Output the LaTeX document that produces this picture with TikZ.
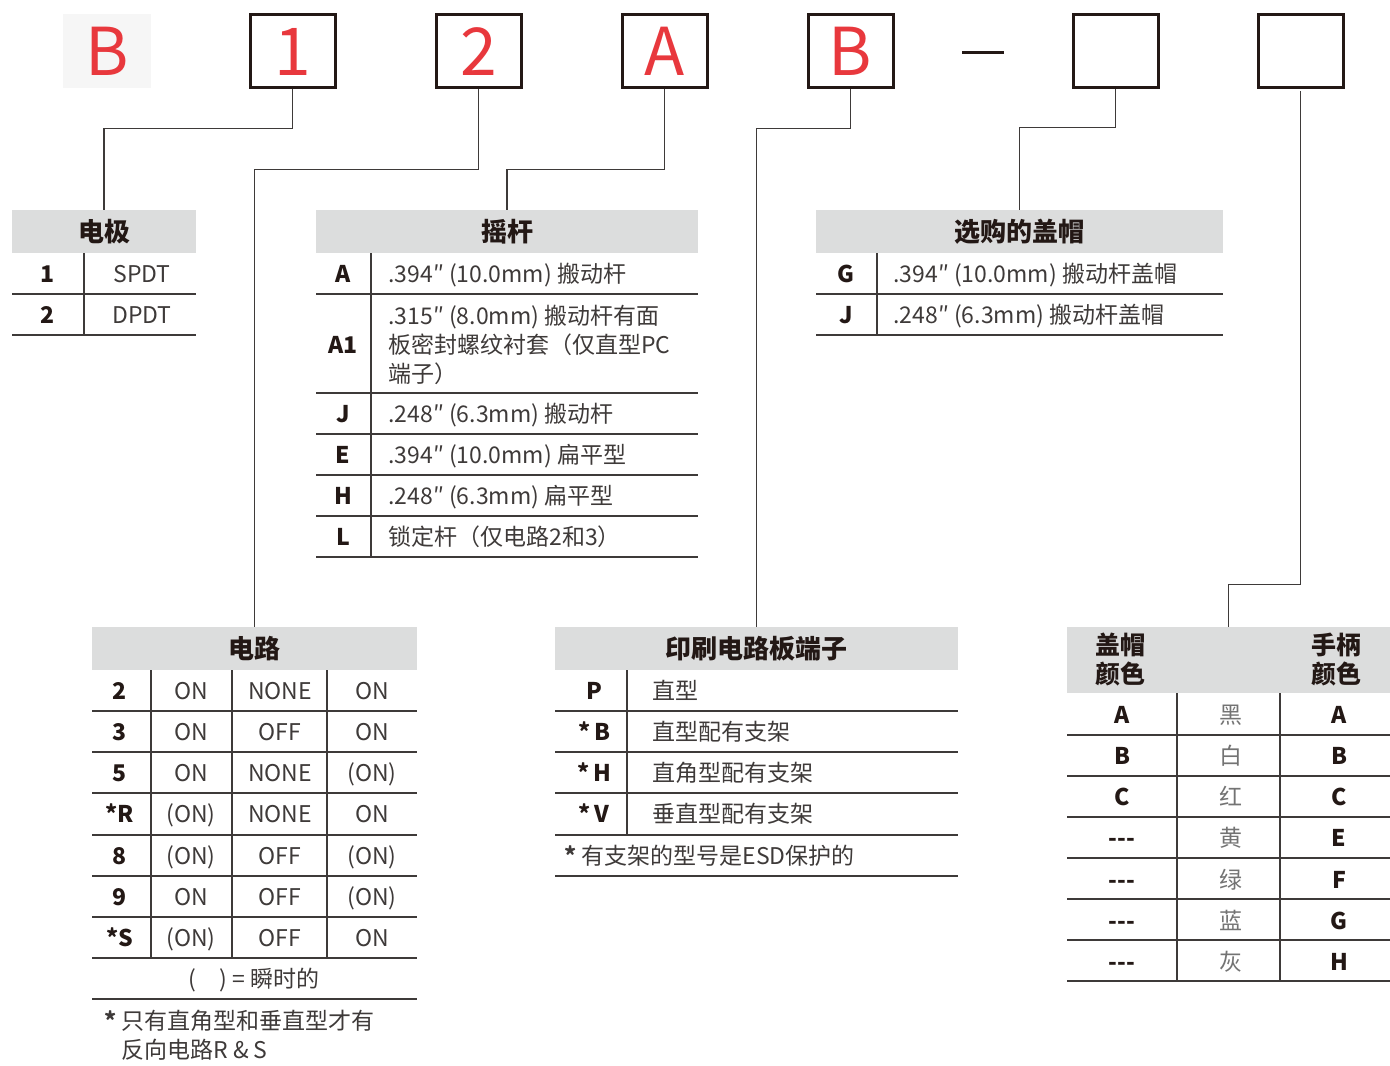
\documentclass[tikz,border=0pt]{standalone}
\usepackage{fontspec}
\setmainfont{Noto Sans CJK SC}
\usetikzlibrary{positioning}
\definecolor{hdgray}{HTML}{DCDDDD}
\definecolor{txtgray}{HTML}{3E3A39}
\definecolor{keyblk}{HTML}{231815}
\definecolor{linegray}{HTML}{3E3A39}
\definecolor{codered}{HTML}{E8383D}
\definecolor{bgpale}{HTML}{F6F6F6}

\begin{document}
\begin{tikzpicture}[x=0.5pt,y=-0.5pt]
  % some styles
  \tikzset{
    selbox/.style={
      draw=keyblk,
      line width=1.5pt,
      minimum width=42.5pt,
      minimum height=36.5pt,
      inner sep=0pt,
      text=codered,
      font=\fontsize{33}{33}\selectfont
    }
  }
  \tikzset{hdr/.style={fill=hdgray,inner sep=0pt,minimum height=21.5pt,text=keyblk,text height=11pt,text depth=1.2pt,font=\fontsize{13}{15}\selectfont\bfseries}}
  \tikzset{key/.style={text=keyblk,inner sep=0pt,text height=9.6pt,text depth=0.8pt,font=\fontsize{11.5}{14}\selectfont\bfseries}}
  \tikzset{val/.style={text=txtgray,inner sep=0pt,text height=9.6pt,text depth=0.8pt,font=\fontsize{11.5}{14}\selectfont}}
  \tikzset{lval/.style={val,anchor=west}}
  \tikzset{rule/.style={draw=linegray,line width=1pt}}
  \tikzset{conn/.style={draw=linegray,line width=0.75pt}}

  \useasboundingbox (0,0) rectangle (1390,1065);

  % part number boxes
  \node[selbox,draw=none,fill=bgpale,minimum width=44pt,minimum height=37pt] (s0) at (107,51) {B};
  \node[selbox] (s1) at (292.5,51.5) {1};
  \node[selbox] (s2) at (478.5,51.5) {2};
  \node[selbox] (s3) at (664.5,51.5) {A};
  \node[selbox] (s4) at (850.5,51.5) {B};
  \node[selbox] (s5) at (1115.5,51.5) {};
  \node[selbox] (s6) at (1300.5,51.5) {};
  \draw[line width=1.5pt,keyblk] (962,53) -- (1004,53);

  % table headers
  \node[hdr,minimum width=92pt] (tpole) at (104,231.5) {电极};
  \node[hdr,minimum width=191pt] (tlever) at (507,231.5) {摇杆};
  \node[hdr,minimum width=203.5pt] (tcap) at (1019.5,231.5) {选购的盖帽};
  \node[hdr,minimum width=162.5pt] (tcirc) at (254.5,648.5) {电路};
  \node[hdr,minimum width=201.5pt] (tpcb) at (756.5,648.5) {印刷电路板端子};
  \node[hdr,minimum width=161.5pt,minimum height=33pt] (tcol) at (1228.5,660) {};
  \node[key,font=\fontsize{12.5}{14}\selectfont\bfseries] (tcolLa) at (1120,646) {盖帽};
  \node[key,font=\fontsize{12.5}{14}\selectfont\bfseries] (tcolLb) at (1120,675) {颜色};
  \node[key,font=\fontsize{12.5}{14}\selectfont\bfseries] (tcolRa) at (1336,646) {手柄};
  \node[key,font=\fontsize{12.5}{14}\selectfont\bfseries] (tcolRb) at (1336,675) {颜色};

  % leader lines
  \draw[conn] (s1.south) -- ++(0,39) -| (tpole.north);
  \draw[conn] (s2.south) -- ++(0,80) -| (tcirc.north);
  \draw[conn] (s3.south) -- ++(0,80) -| (tlever.north);
  \draw[conn] (s4.south) -- ++(0,39) -| (tpcb.north);
  \draw[conn] (s5.south) -- ++(0,38) -| (tcap.north);
  \draw[conn,shorten <=1pt] (s6.south) -- ++(0,495) -| (tcol.north);

  % poles
  \foreach \y in {294,335} \draw[rule] (12,\y) -- (196,\y);
  \draw[rule] (84,253) -- (84,335);
  \foreach \y/\k/\t in {274/1/SPDT,315/2/DPDT} {
    \node[key] (pk\k) at (48,\y) {\k};
    \node[val] (pv\k) at (142,\y) {\t};
  }

  % lever
  \foreach \y in {294,393,434,475,516,557} \draw[rule] (316,\y) -- (698,\y);
  \draw[rule] (371,253) -- (371,557);
  \foreach \y/\k/\t in {274/A/{.394″ (10.0mm) 搬动杆},414/J/{.248″ (6.3mm) 搬动杆},
      455/E/{.394″ (10.0mm) 扁平型},496/H/{.248″ (6.3mm) 扁平型},537/L/{锁定杆（仅电路2和3）}} {
    \node[key] (lk\k) at (343,\y) {\k};
    \node[lval] (lv\k) at (388,\y) {\t};
  }
  \node[key] (lkA1) at (343,345) {A1};
  \node[lval] (lvA1a) at (388,316) {.315″ (8.0mm) 搬动杆有面};
  \node[lval] (lvA1b) at (388,345) {板密封螺纹衬套（仅直型PC};
  \node[lval] (lvA1c) at (388,374) {端子）};

  % optional caps
  \foreach \y in {294,335} \draw[rule] (816,\y) -- (1223,\y);
  \draw[rule] (877,253) -- (877,335);
  \foreach \y/\k/\t in {274/G/{.394″ (10.0mm) 搬动杆盖帽},315/J/{.248″ (6.3mm) 搬动杆盖帽}} {
    \node[key] (ok\k) at (846,\y) {\k};
    \node[lval] (ov\k) at (893,\y) {\t};
  }

  % circuits
  \foreach \y in {711,752,793,835,876,917,958,999} \draw[rule] (92,\y) -- (417,\y);
  \foreach \x in {151,232,327} \draw[rule] (\x,670) -- (\x,958);
  \foreach \y/\k/\a/\b/\c in {691/2/ON/NONE/ON,732/3/ON/OFF/ON,773/5/ON/NONE/(ON),
      814/*R/(ON)/NONE/ON,856/8/(ON)/OFF/(ON),897/9/ON/OFF/(ON),938/*S/(ON)/OFF/ON} {
    \node[key] (ck\y) at (120,\y) {\k};
    \node[val] (ca\y) at (191,\y) {\a};
    \node[val] (cb\y) at (280,\y) {\b};
    \node[val] (cc\y) at (372,\y) {\c};
  }
  \node[val] (cnote) at (254,979) {(\hspace{12pt}) = 瞬时的};
  \node[lval] (cfoota) at (104,1021) {\textbf{*} 只有直角型和垂直型才有};
  \node[lval] (cfootb) at (121,1050) {反向电路R \& S};

  % pc terminals
  \foreach \y in {711,752,793,835,876} \draw[rule] (555,\y) -- (958,\y);
  \draw[rule] (627,670) -- (627,835);
  \foreach \y/\k/\t in {691/P/直型,732/*\,B/直型配有支架,773/*\,H/直角型配有支架,814/*\,V/垂直型配有支架} {
    \node[key] (tk\y) at (594,\y) {\k};
    \node[lval] (tv\y) at (652,\y) {\t};
  }
  \node[lval] (pfoot) at (564,856) {\textbf{*} 有支架的型号是ESD保护的};

  % colours
  \foreach \y in {735,776,817,858,899,940,981} \draw[rule] (1067,\y) -- (1390,\y);
  \foreach \x in {1177,1280} \draw[rule] (\x,693) -- (\x,981);
  \foreach \y/\a/\b/\c in {715/A/黑/A,756/B/白/B,797/C/红/C,838/{-{}-{}-}/黄/E,
      880/{-{}-{}-}/绿/F,921/{-{}-{}-}/蓝/G,962/{-{}-{}-}/灰/H} {
    \node[key] (ka\y) at (1122,\y) {\a};
    \node[val,text=black!55] (kb\y) at (1231,\y) {\b};
    \node[key] (kc\y) at (1339,\y) {\c};
  }
\end{tikzpicture}
\end{document}
